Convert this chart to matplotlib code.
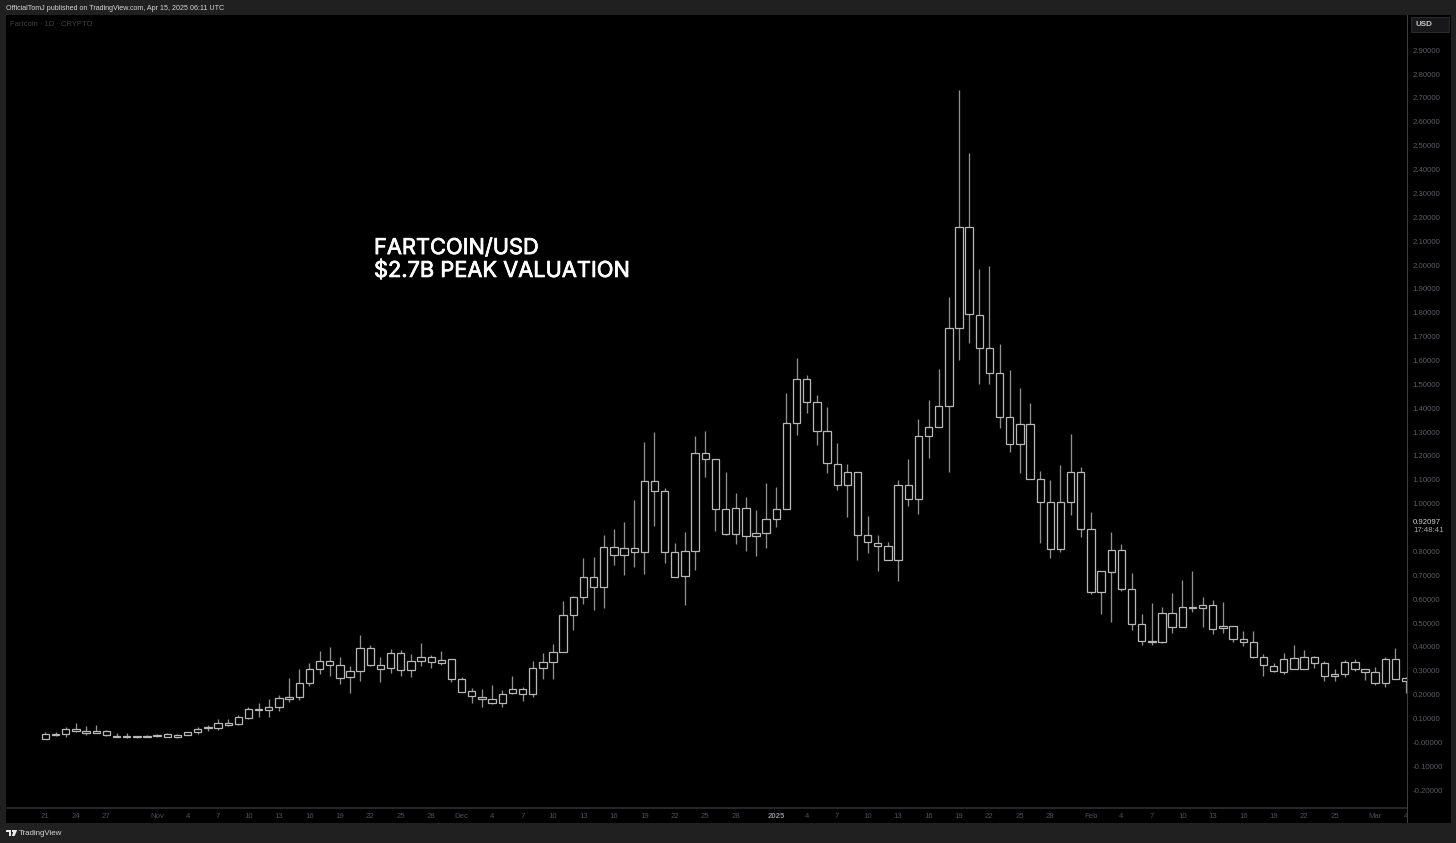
import matplotlib
matplotlib.use("Agg")
import matplotlib.pyplot as plt
import matplotlib.patheffects as pe
from matplotlib.patches import Rectangle, Polygon
from matplotlib.transforms import Bbox

W, H = 1456, 843

# Daily candles from 21 Oct 2024, one row per day: body top, body bottom, wick high, wick low (USD)
body_top = [
 .034,.037,.057,.057,.047,.047,.047,.027,.026,.026,.027,.032,.034,.032,.042,.057,.063,.083,.083,.105,
 .139,.141,.150,.185,.189,.248,.306,.342,.342,.323,.298,.396,.396,.323,.373,.373,.340,.359,.359,.347,
 .348,.264,.214,.191,.183,.204,.222,.222,.310,.336,.379,.535,.608,.692,.692,.819,.819,.816,.814,1.094,
 1.094,1.052,.796,.801,1.211,1.211,1.186,.977,.983,.983,.879,.935,.977,1.337,1.521,1.521,1.425,1.303,1.168,1.132,
 1.132,.868,.837,.822,1.077,1.077,1.284,1.320,1.408,1.736,2.158,2.158,1.792,1.651,1.549,1.364,1.333,1.333,1.102,1.006,
 1.006,1.134,1.134,.893,.717,.806,.806,.641,.495,.425,.541,.541,.566,.566,.574,.574,.489,.489,.434,.422,
 .359,.320,.351,.352,.359,.359,.331,.288,.336,.336,.306,.295,.348,.348,.269]
body_bottom = [
 .014,.033,.035,.047,.041,.041,.030,.021,.021,.021,.024,.026,.024,.024,.032,.044,.060,.062,.074,.076,
 .103,.137,.137,.150,.183,.189,.248,.306,.324,.271,.273,.298,.324,.309,.310,.305,.305,.342,.336,.334,
 .267,.212,.193,.183,.166,.166,.206,.202,.202,.310,.338,.379,.535,.608,.650,.650,.786,.786,.798,.798,
 1.052,.796,.694,.696,.801,1.186,.977,.873,.873,.865,.865,.879,.935,.977,1.337,1.426,1.303,1.169,1.080,1.080,
 .868,.838,.823,.764,.764,1.021,1.021,1.284,1.320,1.408,1.737,1.793,1.651,1.549,1.364,1.249,1.249,1.102,1.006,.809,
 .809,1.006,.893,.630,.630,.715,.641,.495,.424,.422,.421,.485,.485,.563,.562,.476,.478,.434,.422,.359,
 .323,.298,.296,.308,.308,.333,.277,.278,.288,.308,.296,.250,.250,.267,.257]
wick_high = [
 .044,.044,.066,.080,.069,.072,.052,.041,.038,.026,.032,.036,.038,.036,.045,.063,.072,.097,.097,.114,
 .147,.164,.183,.200,.269,.306,.334,.383,.398,.357,.320,.450,.409,.359,.393,.387,.369,.418,.365,.382,
 .349,.273,.227,.222,.239,.218,.278,.233,.342,.376,.412,.591,.613,.771,.778,.868,.895,.923,1.016,1.258,
 1.302,1.064,.834,.880,1.284,1.305,1.187,1.134,1.044,1.027,.974,1.086,1.070,1.463,1.610,1.539,1.454,1.405,1.254,1.166,
 1.133,.948,.868,.841,1.099,1.188,1.354,1.434,1.563,1.865,2.733,2.468,1.985,1.996,1.669,1.560,1.483,1.423,1.136,1.099,
 1.162,1.292,1.152,.966,.717,.883,.831,.708,.537,.584,.567,.625,.680,.717,.610,.597,.588,.489,.465,.467,
 .370,.331,.376,.408,.387,.362,.342,.306,.345,.348,.309,.315,.359,.397,.273]
wick_low = [
 .013,.027,.024,.044,.032,.041,.027,.021,.020,.020,.021,.024,.021,.018,.031,.036,.047,.052,.069,.072,
 .099,.108,.105,.133,.171,.178,.238,.285,.279,.245,.206,.259,.321,.254,.289,.279,.273,.320,.313,.326,
 .252,.211,.164,.147,.162,.150,.203,.175,.191,.264,.267,.379,.471,.579,.555,.564,.745,.700,.736,.704,
 .908,.753,.694,.577,.721,1.111,.887,.868,.831,.803,.782,.815,.901,.977,1.287,1.381,1.246,1.127,1.057,.943,
 .764,.795,.719,.764,.677,.990,.957,1.191,1.320,1.133,1.602,1.672,1.501,1.501,1.317,1.215,1.127,1.102,.837,.774,
 .799,.953,.859,.620,.537,.506,.633,.471,.409,.409,.415,.457,.485,.548,.482,.454,.460,.422,.404,.352,
 .278,.295,.287,.308,.306,.312,.258,.257,.275,.299,.261,.242,.233,.267,.208]

# Price scale; 0.9 is hidden in the reference by the last-price label
price_ticks = [-0.2, -0.1, 0.0, 0.1, 0.2, 0.3, 0.4, 0.5, 0.6, 0.7, 0.8, 1.0, 1.1, 1.2, 1.3, 1.4, 1.5, 1.6,
               1.7, 1.8, 1.9, 2.0, 2.1, 2.2, 2.3, 2.4, 2.5, 2.6, 2.7, 2.8, 2.9]
price_labels = ["-0.20000", "-0.10000", "-0.00000", "0.10000", "0.20000", "0.30000", "0.40000", "0.50000",
                "0.60000", "0.70000", "0.80000", "1.00000", "1.10000", "1.20000", "1.30000", "1.40000",
                "1.50000", "1.60000", "1.70000", "1.80000", "1.90000", "2.00000", "2.10000", "2.20000",
                "2.30000", "2.40000", "2.50000", "2.60000", "2.70000", "2.80000", "2.90000"]

date_ticks = [0, 3, 6, 11, 14, 17, 20, 23, 26, 29, 32, 35, 38, 41, 44, 47, 50, 53, 56, 59, 62, 65, 68,
              72, 75, 78, 81, 84, 87, 90, 93, 96, 99, 103, 106, 109, 112, 115, 118, 121, 124, 127, 131, 134]
date_labels = ["21", "24", "27", "Nov", "4", "7", "10", "13", "16", "19", "22", "25", "28", "Dec",
               "4", "7", "10", "13", "16", "19", "22", "25", "28", "2025", "4", "7", "10", "13", "16",
               "19", "22", "25", "28", "Feb", "4", "7", "10", "13", "16", "19", "22", "25", "Mar", "4"]

title_bar = "OfficialTomJ published on TradingView.com, Apr 15, 2025 06:11 UTC"
symbol_text = "Fartcoin · 1D · CRYPTO"
note_lines = "FARTCOIN/USD\n$2.7B PEAK VALUATION"
last_price = "0.92097"
countdown = "17:48:41"

plt.rcParams["font.family"] = ["Liberation Sans", "DejaVu Sans"]
NOTE_FONT = ["Inter", "Liberation Sans", "DejaVu Sans"]

OUTER = "#202020"
fig = plt.figure(figsize=(W / 100, H / 100), dpi=100, facecolor=OUTER)


def fx(p):
    return p / W


def fy(p):
    return 1 - p / H


# Black panel behind the whole chart, price scale and time scale
fig.patches.append(Rectangle((fx(6), fy(823)), fx(1450.5 - 6), (823 - 15) / H, transform=fig.transFigure,
                             facecolor="black", edgecolor="none", zorder=0))

L, R, T, B = 6, 1407, 15, 807.5
ax = fig.add_axes([fx(L), fy(B), (R - L) / W, (B - T) / H], facecolor="black")
ax.set_zorder(2)
ax.set_xlim((L - 45.5) / 10.15, (R - 45.5) / 10.15)
ax.set_ylim((742.4 - B) / 238.7, (742.4 - T) / 238.7)
for s in ax.spines.values():
    s.set_visible(False)

days = list(range(len(body_top)))
ax.vlines(days, wick_low, wick_high, colors="#8f8f8f", linewidth=0.95, zorder=2)
ax.bar(days, [t - b for t, b in zip(body_top, body_bottom)], bottom=body_bottom, width=0.72,
       facecolor="black", edgecolor="#b8b8b8", linewidth=0.9, zorder=3)

ax.yaxis.tick_right()
ax.set_yticks(price_ticks, price_labels)
ax.set_xticks(date_ticks, date_labels)
ax.tick_params(axis="y", length=0, pad=4.2, labelsize=5.6, labelcolor="#5a5b60")
ax.tick_params(axis="x", length=0, pad=4.2, labelsize=5.6, labelcolor="#4e4f54")
clip = Bbox([[L, 0], [R, H]])
for t, lab in zip(ax.get_xticklabels(), date_labels):
    t.set_clip_box(clip)
    t.set_clip_on(True)
    if lab == "2025":
        t.set_color("#8a8b90")
        t.set_fontweight("bold")

# Panel separators
fig.add_artist(Rectangle((fx(6), fy(808.5)), fx(R - 6), 1.6 / H, transform=fig.transFigure,
                         facecolor="#26262a", edgecolor="none", zorder=5))
fig.add_artist(Rectangle((fx(R), fy(823)), 1 / W, (823 - 15) / H, transform=fig.transFigure,
                         facecolor="#3e3e42", edgecolor="none", zorder=5))

# Header, footer, labels
fig.text(fx(6), fy(8.6), title_bar, color="#d8d8d8", fontsize=5.15, va="center", ha="left", zorder=6)
fig.text(fx(10), fy(24), symbol_text, color="#3f3f44", fontsize=5.5, va="center", ha="left", zorder=6)
note = fig.text(fx(374), fy(259.5), note_lines, color="white", fontsize=15.7, family=NOTE_FONT, va="center",
                ha="left", linespacing=1.18, zorder=6)
note.set_path_effects([pe.withStroke(linewidth=0.55, foreground="white")])

# Currency button
fig.add_artist(Rectangle((fx(1410.5), fy(32)), 38 / W, 15 / H, transform=fig.transFigure,
                         facecolor="#18181a", edgecolor="#2a2a2c", linewidth=0.7, zorder=5))
fig.text(fx(1415), fy(24.5), "USD", color="#c8c8c8", fontsize=5.8, fontweight="bold", va="center", zorder=6)

# Last-price label
fig.text(fx(1413), fy(522), last_price, color="#d0d0d0", fontsize=5.6, va="center", zorder=6)
fig.text(fx(1413), fy(530), countdown, color="#a8a8a8", fontsize=5.6, va="center", zorder=6)

# Footer logo and wordmark
logo = "#e8e8e8"
fig.add_artist(Polygon([(fx(6), fy(830)), (fx(11), fy(830)), (fx(11), fy(836)), (fx(8.6), fy(836)),
                        (fx(8.6), fy(832)), (fx(6), fy(832))], closed=True, transform=fig.transFigure,
                       facecolor=logo, edgecolor="none", zorder=6))
fig.add_artist(Rectangle((fx(11.6), fy(832)), 2 / W, 2 / H, transform=fig.transFigure,
                         facecolor=logo, edgecolor="none", zorder=6))
fig.add_artist(Polygon([(fx(13.8), fy(830)), (fx(17.2), fy(830)), (fx(14.6), fy(836)), (fx(11.8), fy(836))],
                       closed=True, transform=fig.transFigure, facecolor=logo, edgecolor="none", zorder=6))
fig.text(fx(19), fy(833.5), "TradingView", color="#d8d8d8", fontsize=5.7, va="center", ha="left", zorder=6)

fig.savefig("out.png", dpi=100, facecolor=fig.get_facecolor())
